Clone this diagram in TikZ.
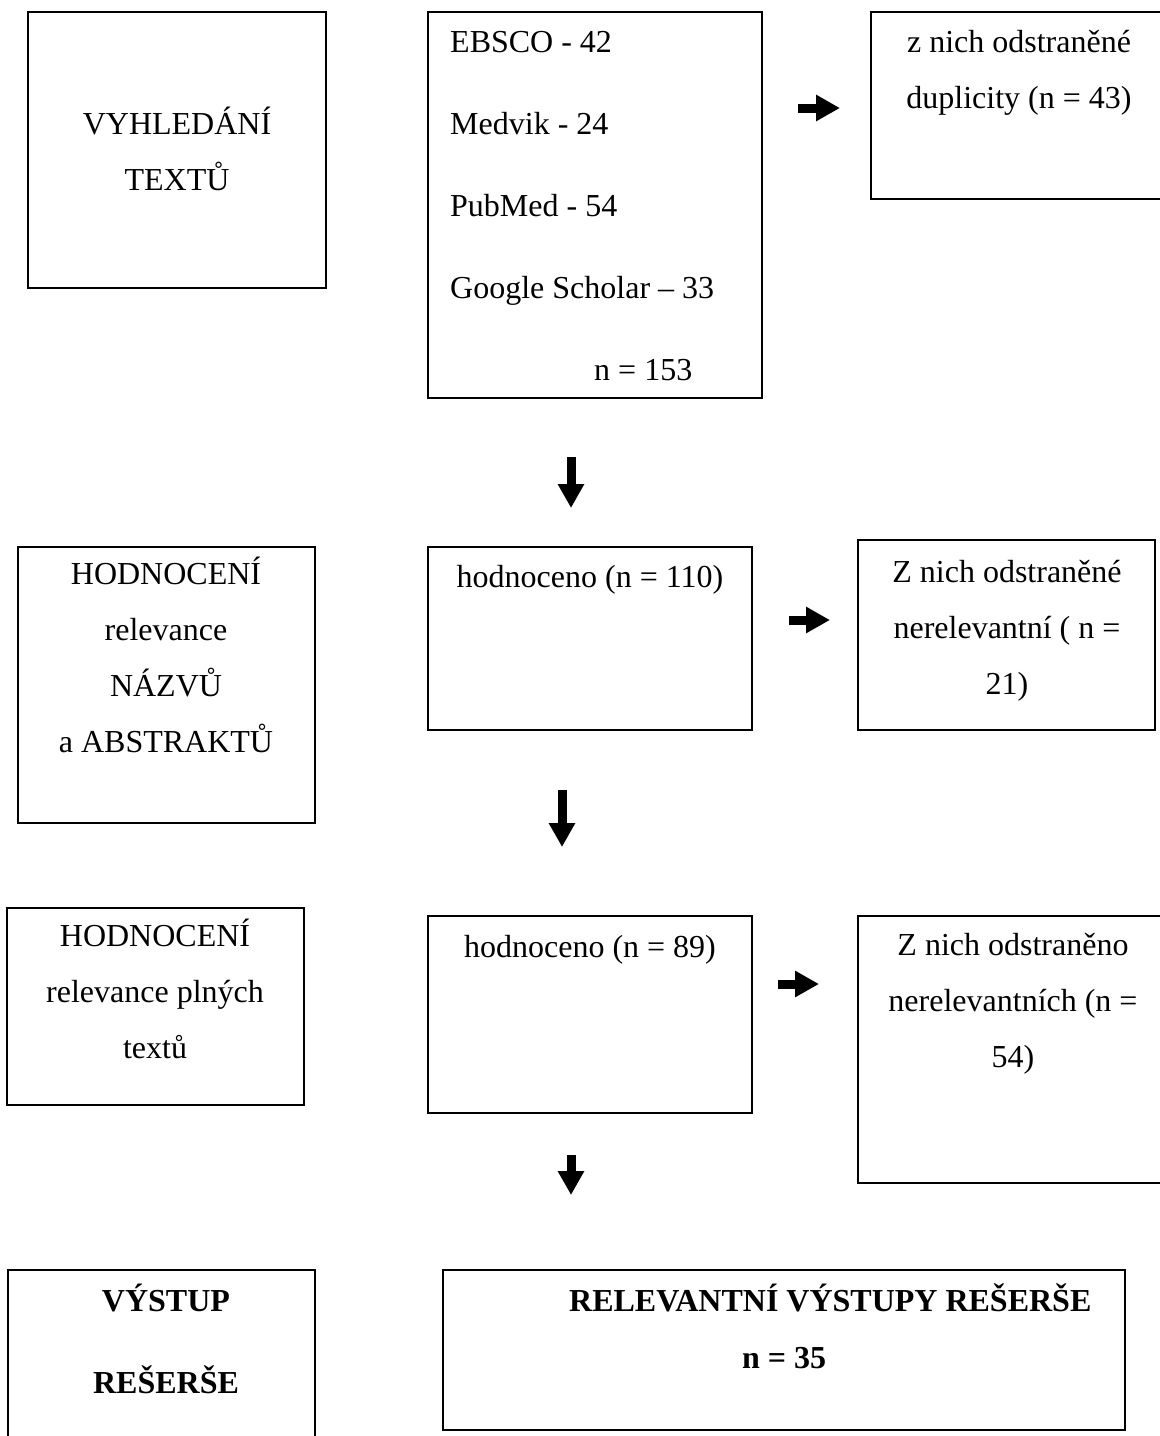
\documentclass[tikz,border=0pt]{standalone}
\usepackage{fontspec}
\setmainfont{Liberation Serif}
\usetikzlibrary{arrows.meta}

\tikzset{
  box/.style={draw,line width=1.5pt,rectangle,inner sep=0pt},
  boxtext/.style={font=\fontsize{32}{56}\selectfont,align=center,anchor=base,inner sep=0pt},
  blockarrow/.style={line width=9pt,-{Triangle[length=24pt,width=25pt]}}
}

\begin{document}
\begin{tikzpicture}[x=1pt,y=-1pt]
\useasboundingbox (0,0) rectangle (1160,1436);
\clip (0,0) rectangle (1160,1436);

% boxes
\node[box,minimum width=298pt,minimum height=276pt] (hledani) at (177,150) {};
\node[box,minimum width=334pt,minimum height=386pt] (zdroje) at (595,205) {};
\node[box,minimum width=299pt,minimum height=187pt] (duplicity) at (1020.5,105.5) {};
\node[box,minimum width=297pt,minimum height=276pt] (abstrakty) at (166.5,685) {};
\node[box,minimum width=324pt,minimum height=183pt] (hodnoceno1) at (590,638.5) {};
\node[box,minimum width=297pt,minimum height=190pt] (nerelev1) at (1006.5,635) {};
\node[box,minimum width=297pt,minimum height=197pt] (plne) at (155.5,1006.5) {};
\node[box,minimum width=324pt,minimum height=197pt] (hodnoceno2) at (590,1014.5) {};
\node[box,minimum width=312pt,minimum height=267pt] (nerelev2) at (1014,1049.5) {};
\node[box,minimum width=307pt,minimum height=180pt] (vystup) at (161.5,1360) {};
\node[box,minimum width=682pt,minimum height=160pt] (relevantni) at (784,1350) {};

% texts (base = last line)
\node[boxtext] (hledaniT) at (177,190) {VYHLEDÁNÍ\\TEXTŮ};
\node[boxtext,align=left,anchor=base west,font=\fontsize{32}{82}\selectfont] (zdrojeT) at (450,380)
  {EBSCO - 42\\Medvik - 24\\PubMed - 54\\Google Scholar -- 33\\\hspace*{144pt}n = 153};
\node[boxtext] (duplicityT) at (1019,108) {z nich odstraněné\\duplicity (n = 43)};
\node[boxtext] (abstraktyT) at (166,752) {HODNOCENÍ\\relevance\\NÁZVŮ\\a ABSTRAKTŮ};
\node[boxtext] (hodnoceno1T) at (590,587) {hodnoceno (n = 110)};
\node[boxtext] (nerelev1T) at (1007,694) {Z nich odstraněné\\nerelevantní ( n =\\21)};
\node[boxtext] (plneT) at (155,1058) {HODNOCENÍ\\relevance plných\\textů};
\node[boxtext] (hodnoceno2T) at (590,957) {hodnoceno (n = 89)};
\node[boxtext] (nerelev2T) at (1013,1067) {Z nich odstraněno\\nerelevantních (n =\\54)};
\node[boxtext,font=\bfseries\fontsize{32}{82}\selectfont] (vystupT) at (166,1393) {VÝSTUP\\REŠERŠE};
\node[boxtext,align=left,anchor=base west,font=\bfseries\fontsize{32}{57}\selectfont] (relevantniT) at (569,1368)
  {RELEVANTNÍ VÝSTUPY REŠERŠE\\\hspace*{173pt}n = 35};

% arrows
\coordinate (r1a) at (798,108);  \coordinate (r1b) at (840,108);
\coordinate (d1a) at (571,457);  \coordinate (d1b) at (571,508);
\coordinate (r2a) at (789,620);  \coordinate (r2b) at (830,620);
\coordinate (d2a) at (562,790);  \coordinate (d2b) at (562,847);
\coordinate (r3a) at (778,984);  \coordinate (r3b) at (819,984);
\coordinate (d3a) at (571,1155); \coordinate (d3b) at (571,1195);
\draw[blockarrow] (r1a) -- (r1b);
\draw[blockarrow] (d1a) -- (d1b);
\draw[blockarrow] (r2a) -- (r2b);
\draw[blockarrow] (d2a) -- (d2b);
\draw[blockarrow] (r3a) -- (r3b);
\draw[blockarrow] (d3a) -- (d3b);
\end{tikzpicture}
\end{document}
